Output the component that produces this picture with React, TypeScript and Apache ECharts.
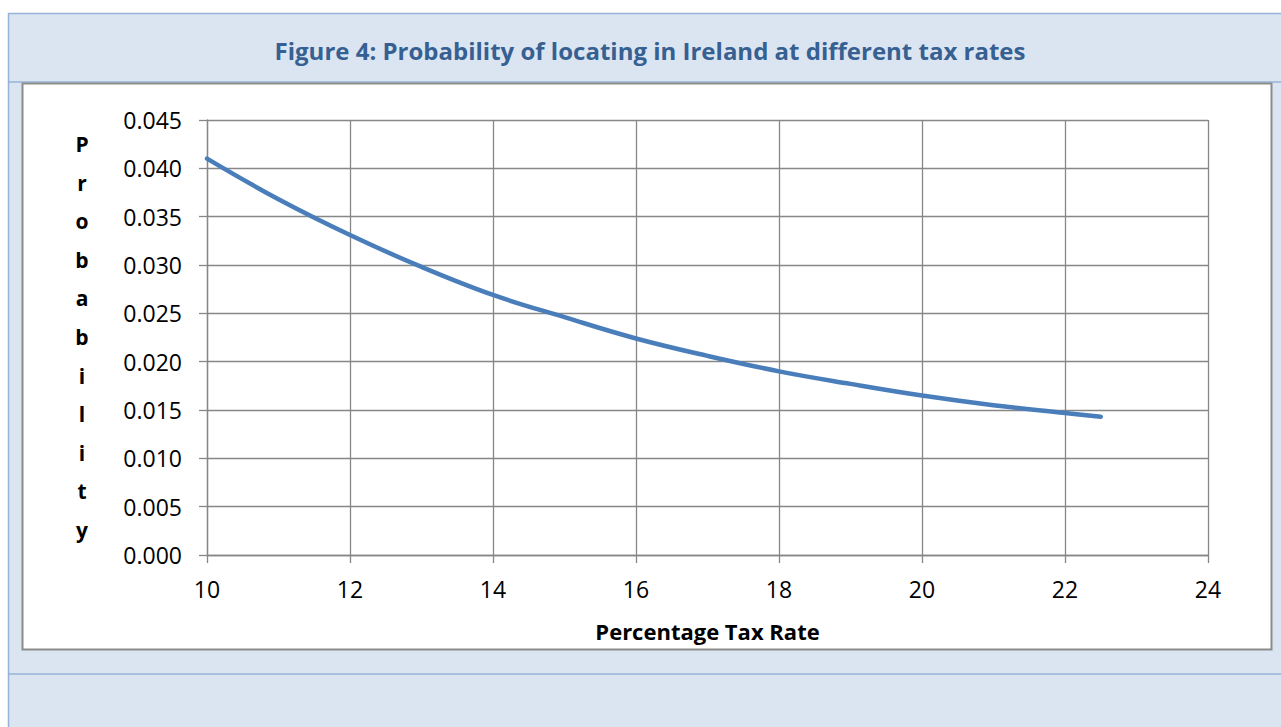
import React, { useEffect, useRef } from "react";
import * as echarts from "echarts";

// Percentage tax rate (x) and probability of locating in Ireland (y)
const taxRates = [10, 11, 12, 13, 14, 15, 16, 17, 18, 19, 20, 21, 22, 22.5];
const probability = [
  0.041, 0.0368, 0.0331, 0.0298, 0.0269, 0.0246, 0.0224, 0.0206, 0.019, 0.0177,
  0.0165, 0.0155, 0.0147, 0.0143,
];

const titleText = "Figure 4: Probability of locating in Ireland at different tax rates";
const xAxisTitle = "Percentage Tax Rate";
const yAxisTitle = "Probability";

const FONT = "'Open Sans', Lato, sans-serif";
const GRID_COLOR = "#878787";
const PANEL_BG = "#dbe5f1";
const PANEL_LINE = "#95b3d7";

export default function App() {
  const ref = useRef<HTMLDivElement>(null);

  useEffect(() => {
    document.body.style.margin = "0";
    const chart = echarts.init(ref.current!, null, { renderer: "svg" });

    chart.setOption({
      animation: false,
      backgroundColor: "#ffffff",
      textStyle: { fontFamily: FONT },
      graphic: [
        {
          type: "rect",
          z: -10,
          silent: true,
          shape: { x: 8.5, y: 13.5, width: 1300, height: 740 },
          style: { fill: PANEL_BG, stroke: PANEL_LINE, lineWidth: 1.5 },
        },
        {
          type: "line",
          z: -9,
          silent: true,
          shape: { x1: 9, y1: 82, x2: 1281, y2: 82 },
          style: { stroke: PANEL_LINE, lineWidth: 1.5 },
        },
        {
          type: "rect",
          z: -9,
          silent: true,
          shape: { x: 22.5, y: 83.5, width: 1249, height: 566 },
          style: { fill: "#ffffff", stroke: "#8c8c8c", lineWidth: 2 },
        },
        {
          type: "line",
          z: -9,
          silent: true,
          shape: { x1: 9, y1: 674, x2: 1281, y2: 674 },
          style: { stroke: PANEL_LINE, lineWidth: 1.5 },
        },
        {
          type: "text",
          z: 5,
          x: 650,
          y: 50,
          style: {
            text: titleText,
            fill: "#376092",
            font: `bold 24px ${FONT}`,
            align: "center",
            verticalAlign: "middle",
          },
        },
        {
          type: "text",
          z: 5,
          x: 82,
          y: 337,
          style: {
            text: yAxisTitle.split("").join("\n"),
            fill: "#000000",
            font: `bold 21px ${FONT}`,
            lineHeight: 38.6,
            align: "center",
            verticalAlign: "middle",
          },
        },
      ],
      grid: { left: 207, right: 73, top: 120, bottom: 172, containLabel: false },
      xAxis: {
        type: "value",
        min: 10,
        max: 24,
        interval: 2,
        name: xAxisTitle,
        nameLocation: "middle",
        nameGap: 65,
        nameTextStyle: { color: "#000", fontSize: 22, fontWeight: "bold", fontFamily: FONT },
        axisLine: { show: true, onZero: false, lineStyle: { color: GRID_COLOR, width: 1.3 } },
        axisTick: { show: true, inside: false, length: 8, lineStyle: { color: GRID_COLOR, width: 1.3 } },
        axisLabel: { color: "#000", fontSize: 23, margin: 22, fontFamily: FONT },
        splitLine: { show: true, lineStyle: { color: GRID_COLOR, width: 1.3 } },
      },
      yAxis: {
        type: "value",
        min: 0,
        max: 0.045,
        interval: 0.005,
        axisLine: { show: true, lineStyle: { color: GRID_COLOR, width: 1.3 } },
        axisTick: { show: true, inside: false, length: 8, lineStyle: { color: GRID_COLOR, width: 1.3 } },
        axisLabel: {
          color: "#000",
          fontSize: 23,
          margin: 25,
          fontFamily: FONT,
          formatter: (v: number) => v.toFixed(3),
        },
        splitLine: { show: true, lineStyle: { color: GRID_COLOR, width: 1.3 } },
      },
      series: [
        {
          type: "line",
          data: taxRates.map((x, i) => [x, probability[i]]),
          smooth: 0.4,
          showSymbol: false,
          lineStyle: { color: "#4a7ebb", width: 4.5, cap: "round", join: "round" },
          z: 3,
        },
      ],
    });

    return () => chart.dispose();
  }, []);

  return (
    <div
      ref={ref}
      style={{ position: "fixed", left: 0, top: 0, width: 1281, height: 727 }}
    />
  );
}
